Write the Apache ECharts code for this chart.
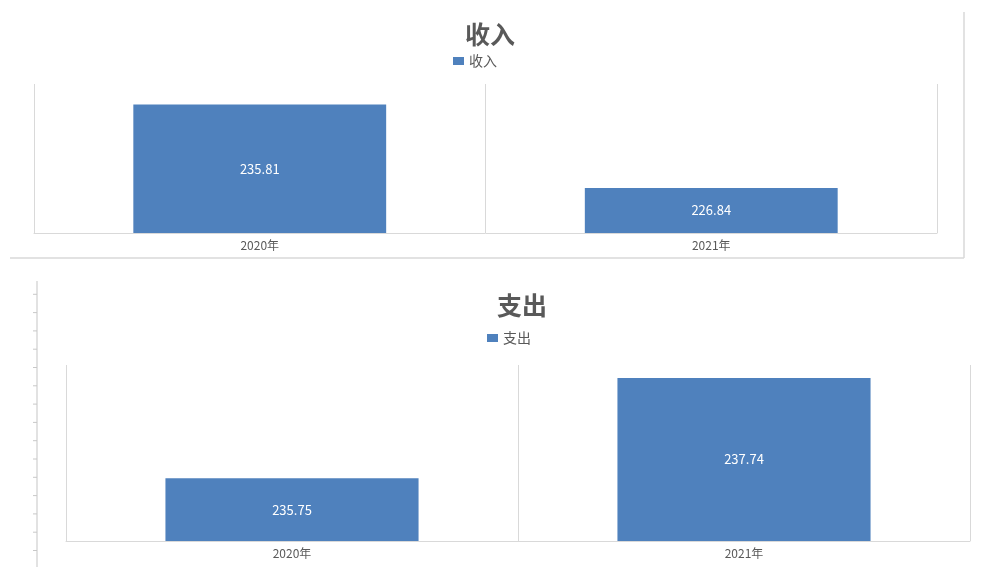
<!DOCTYPE html>
<html>
<head>
<meta charset="utf-8">
<script src="https://cdn.jsdelivr.net/npm/echarts@6/dist/echarts.min.js"></script>
<style>
html,body{margin:0;padding:0;background:#fff;}
#c{width:992px;height:567px;}
</style>
</head>
<body>
<div id="c"></div>
<script>
const categories = ['2020年', '2021年'];
const incomeName = '收入';
const incomeValues = [235.81, 226.84];
const expenseName = '支出';
const expenseValues = [235.75, 237.74];
const incomeRange = [222, 238];
const expenseRange = [234.5, 238];

const GRAY = '#d9d9d9';
const TEXT = '#595959';
const BLUE = '#4F81BD';
const FONT = '"Noto Sans CJK SC", "Noto Sans", sans-serif';

function xAxisCfg(gi) {
  return {
    type: 'category', gridIndex: gi, data: categories, boundaryGap: true,
    axisLine: { show: true, lineStyle: { color: GRAY, width: 1 } },
    axisTick: { show: false },
    splitLine: { show: true, lineStyle: { color: GRAY, width: 1 } },
    axisLabel: { color: TEXT, fontSize: 12, margin: 6, fontFamily: FONT }
  };
}
function yAxisCfg(gi, r) {
  return {
    type: 'value', gridIndex: gi, min: r[0], max: r[1], show: false,
    splitLine: { show: false }
  };
}
function seriesCfg(name, vals, gi) {
  return {
    name: name, type: 'bar', xAxisIndex: gi, yAxisIndex: gi, data: vals,
    barWidth: '56%',
    itemStyle: { color: BLUE },
    label: { show: true, position: 'inside', color: '#fff', fontSize: 13, fontFamily: FONT }
  };
}

// ruler ticks on the left of the lower chart
const rulerTicks = [];
for (let i = 0; i < 15; i++) {
  const y = 294.3 + i * 18.3;
  rulerTicks.push({ type: 'line', shape: { x1: 33, y1: y, x2: 37, y2: y }, style: { stroke: '#c8c8c8', lineWidth: 1 } });
}

const chart = echarts.init(document.getElementById('c'));
chart.setOption({
  animation: false,
  backgroundColor: '#fff',
  title: [
    { text: incomeName, left: 485, top: 17, textAlign: 'center',
      textStyle: { fontSize: 25, fontWeight: 'bold', color: TEXT, fontFamily: FONT } },
    { text: expenseName, left: 517, top: 288, textAlign: 'center',
      textStyle: { fontSize: 25, fontWeight: 'bold', color: TEXT, fontFamily: FONT } }
  ],
  legend: [
    { data: [incomeName], icon: 'rect', left: 448, top: 49, itemWidth: 11, itemHeight: 8, itemGap: 4,
      textStyle: { color: TEXT, fontSize: 14, fontFamily: FONT } },
    { data: [expenseName], icon: 'rect', left: 482, top: 326, itemWidth: 11, itemHeight: 8, itemGap: 4,
      textStyle: { color: TEXT, fontSize: 14, fontFamily: FONT } }
  ],
  grid: [
    { left: 34, right: 55, top: 84, height: 149 },
    { left: 66, right: 22, top: 365, height: 176 }
  ],
  xAxis: [xAxisCfg(0), xAxisCfg(1)],
  yAxis: [yAxisCfg(0, incomeRange), yAxisCfg(1, expenseRange)],
  series: [seriesCfg(incomeName, incomeValues, 0), seriesCfg(expenseName, expenseValues, 1)],
  graphic: [
    { type: 'line', shape: { x1: 964, y1: 12, x2: 964, y2: 258 }, style: { stroke: GRAY, lineWidth: 1.5 } },
    { type: 'line', shape: { x1: 10, y1: 258, x2: 964, y2: 258 }, style: { stroke: GRAY, lineWidth: 1.5 } },
    { type: 'line', shape: { x1: 37, y1: 281, x2: 37, y2: 567 }, style: { stroke: GRAY, lineWidth: 1.5 } }
  ].concat(rulerTicks)
});
</script>
</body>
</html>
